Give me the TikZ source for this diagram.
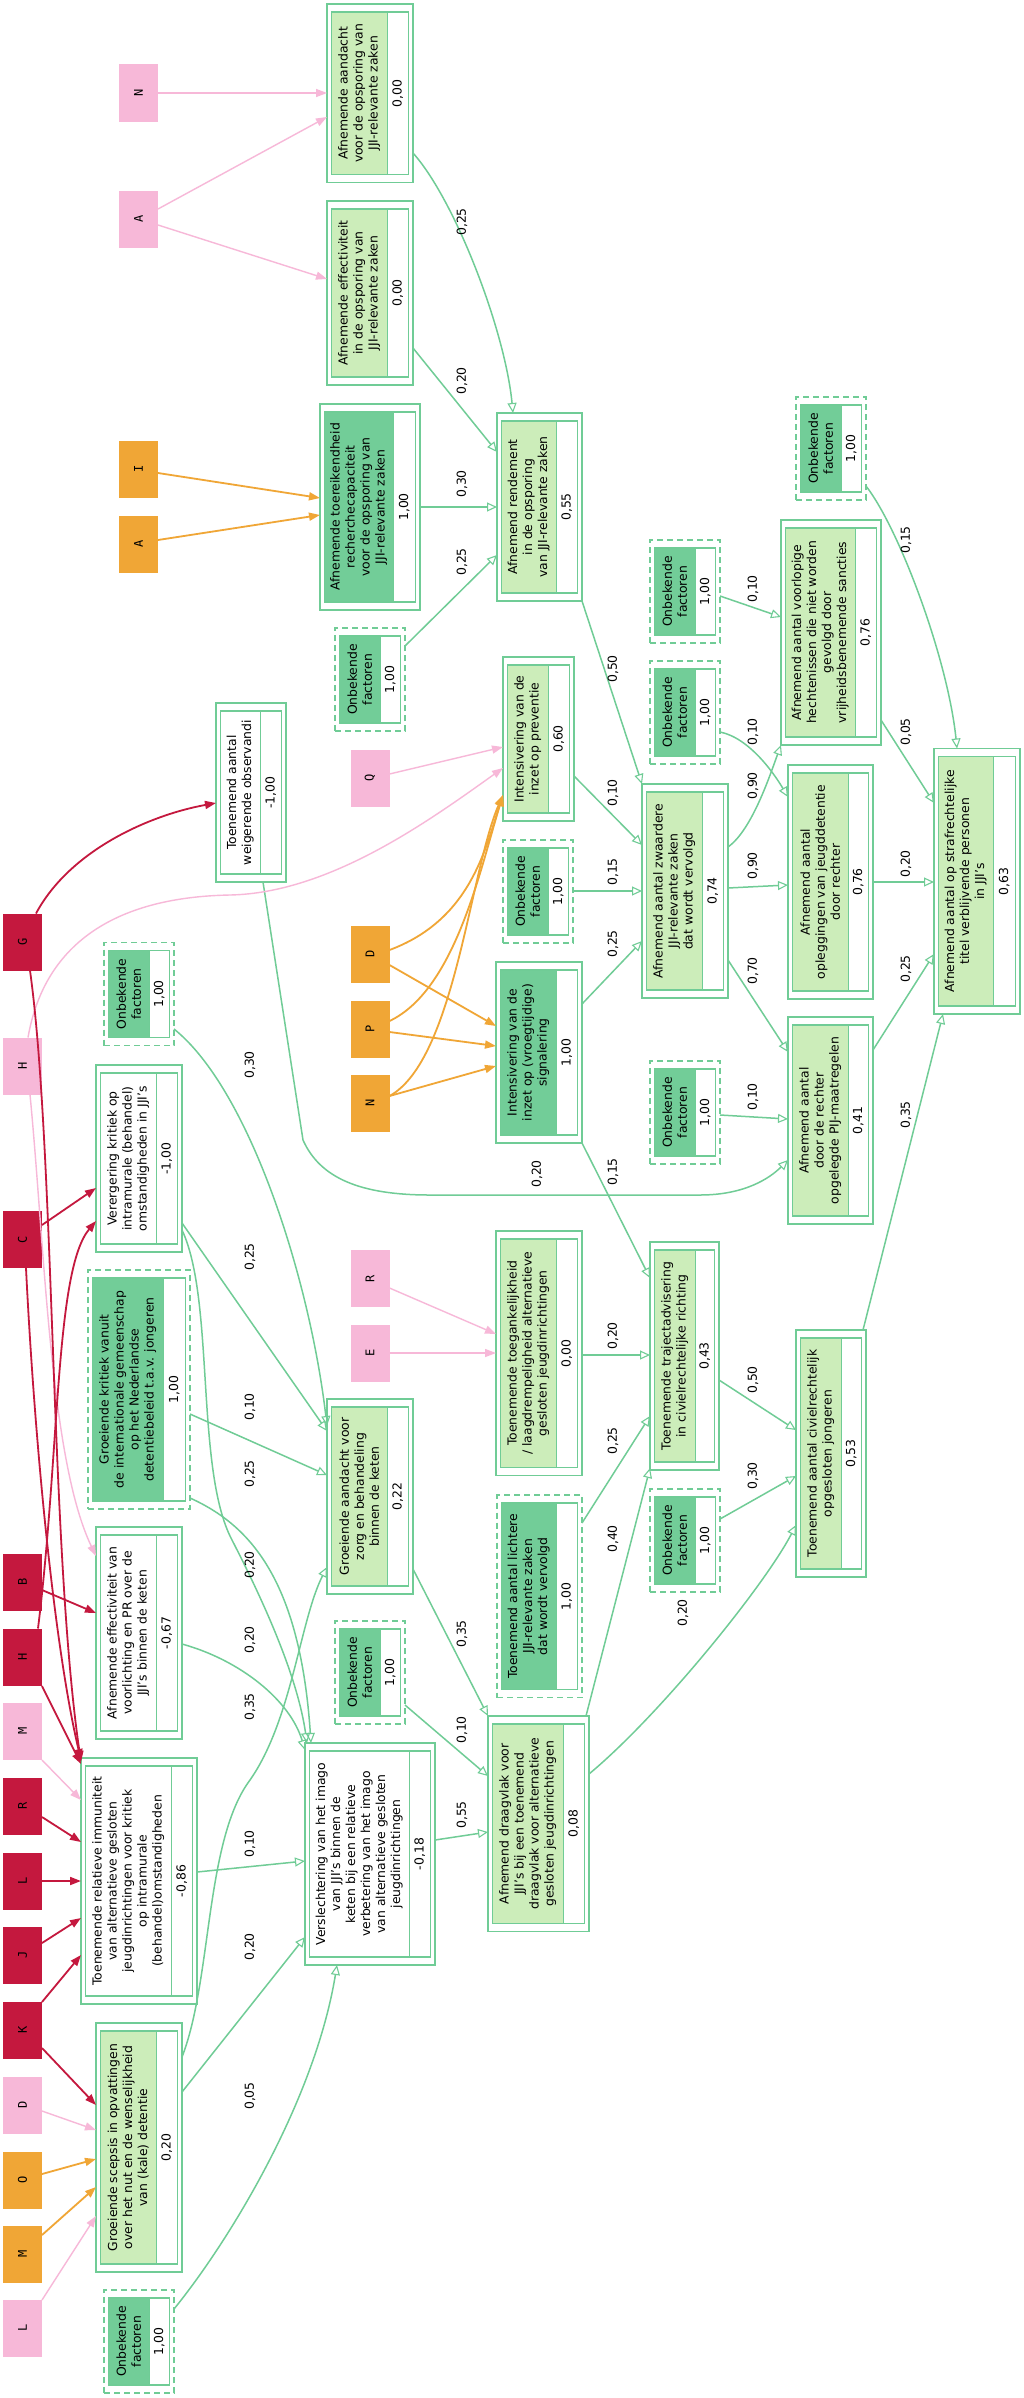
\documentclass[tikz,border=0pt]{standalone}
\usepackage{fontspec}
\usepackage{graphicx}
\setmainfont{DejaVu Sans}
\newfontfamily\monof{DejaVu Sans Mono}
\usetikzlibrary{arrows.meta}
\definecolor{gline}{RGB}{112,204,150}
\definecolor{lightfill}{RGB}{204,237,186}
\definecolor{medfill}{RGB}{114,205,152}
\definecolor{pinkc}{RGB}{247,184,216}
\definecolor{orangec}{RGB}{240,166,54}
\definecolor{crimc}{RGB}{196,24,62}
\tikzset{
 obst/.style={solid},
 outerbox/.style={draw=gline, line width=1.6pt, inner sep=0pt, outer sep=0pt, rectangle},
 innerbox/.style={draw=gline, line width=1.4pt},
 divline/.style={draw=gline, line width=0.9pt},
 boxtext/.style={rotate=90, align=center, inner sep=0pt, font=\fontsize{12.4}{15}\selectfont},
 elab/.style={rotate=90, inner sep=1pt, font=\fontsize{12.4}{15}\selectfont},
 letterbox/.style={rectangle, minimum width=39pt, minimum height=57pt, inner sep=0pt, outer sep=0pt, font=\monof\fontsize{12}{14}\selectfont},
 gedge/.style={draw=gline, line width=1.5pt, -{Triangle[open, length=10pt, width=9pt, line width=1.1pt]}},
 pedge/.style={draw=pinkc, line width=1.4pt, -{Triangle[length=11pt, width=8pt]}},
 oedge/.style={draw=orangec, line width=1.8pt, -{Triangle[length=11pt, width=8pt]}},
 cedge/.style={draw=crimc, line width=1.8pt, -{Triangle[length=11pt, width=8pt]}},
}
% name, xL, xR, yT, yB, div, fill, label, value
\newcommand{\gbox}[9]{%
  \pgfmathsetmacro{\bcx}{(#2+#3)/2}%
  \pgfmathsetmacro{\bcy}{(#4+#5)/2}%
  \pgfmathsetmacro{\bw}{#3-#2}%
  \pgfmathsetmacro{\bh}{#5-#4}%
  \pgfmathsetmacro{\ilx}{#2+4.5}%
  \pgfmathsetmacro{\irx}{#3-4.5}%
  \pgfmathsetmacro{\ity}{#4+8}%
  \pgfmathsetmacro{\iby}{#5-8}%
  \pgfmathsetmacro{\dvx}{#6}%
  \pgfmathsetmacro{\lcx}{(\ilx+\dvx)/2}%
  \pgfmathsetmacro{\vcx}{(\dvx+\irx)/2}%
  \node[outerbox, obst, minimum width=\bw pt, minimum height=\bh pt] (#1) at (\bcx,\bcy) {};
  \fill[#7] (\ilx,\ity) rectangle (\dvx,\iby);
  \draw[innerbox] (\ilx,\ity) rectangle (\irx,\iby);
  \draw[divline] (\dvx,\ity) -- (\dvx,\iby);
  \node[boxtext] (#1-l) at (\lcx,\bcy) {#8};
  \node[boxtext] (#1-v) at (\vcx,\bcy) {#9};
}
\newcommand{\onb}[3]{\begingroup\tikzset{obst/.style={dashed, dash pattern=on 6pt off 4pt}}%
  \gbox{#1}{#2}{#2+70}{#3}{#3+103}{#2+45}{medfill}{Onbekende\\factoren}{1,00}\endgroup}
\newcommand{\lbox}[5]{\node[letterbox, fill=#4] (#1) at (#2,#3) {\rotatebox{90}{#5}};}

\begin{document}
\begin{tikzpicture}[x=1pt,y=-1pt]
\useasboundingbox (0,0) rectangle (1024,2398);
\fill[white] (0,0) rectangle (1024,2398);

% ---------- main boxes ----------
\gbox{bAand}{327}{413}{4}{182.5}{387}{lightfill}{Afnemende aandacht\\voor de opsporing van\\JJI-relevante zaken}{0,00}
\gbox{bEffOps}{327}{413}{201}{385}{387}{lightfill}{Afnemende effectiviteit\\in de opsporing van\\JJI-relevante zaken}{0,00}
\gbox{bToer}{320}{420}{404}{610}{393}{medfill}{Afnemende toereikendheid\\recherchecapaciteit\\voor de opsporing van\\JJI-relevante zaken}{1,00}
\gbox{bRend}{497}{582}{413}{601}{556}{lightfill}{Afnemend rendement\\in de opsporing\\van JJI-relevante zaken}{0,55}
\gbox{bWeig}{216}{286}{703}{882}{260}{white}{Toenemend aantal\\weigerende observandi}{-1,00}
\gbox{bPrev}{503}{574}{657}{821}{548}{lightfill}{Intensivering van de\\inzet op preventie}{0,60}
\gbox{bSign}{496}{582}{962}{1143}{556}{medfill}{Intensivering van de\\inzet op (vroegtijdige)\\signalering}{1,00}
\gbox{bZwaar}{642}{728}{784}{998}{702}{lightfill}{Afnemend aantal zwaardere\\JJI-relevante zaken\\dat wordt vervolgd}{0,74}
\gbox{bVoorl}{781}{881}{520}{745}{855}{lightfill}{Afnemend aantal voorlopige\\hechtenissen die niet worden\\gevolgd door\\vrijheidsbenemende sancties}{0,76}
\gbox{bOpleg}{788}{873}{765}{999}{848}{lightfill}{Afnemend aantal\\opleggingen van jeugddetentie\\door rechter}{0,76}
\gbox{bPIJ}{788}{873}{1017}{1224}{848}{lightfill}{Afnemend aantal\\door de rechter\\opgelegde PIJ-maatregelen}{0,41}
\gbox{bStraf}{934}{1020}{748.5}{1014}{993}{lightfill}{Afnemend aantal op strafrechtelijke\\titel verblijvende personen\\in JJI's}{0,63}
\gbox{bVerer}{96}{182}{1065}{1252}{156}{white}{Verergering kritiek op\\intramurale (behandel)\\omstandigheden in JJI's}{-1,00}
\begingroup\tikzset{obst/.style={dashed, dash pattern=on 6pt off 4pt}}
\gbox{bKrit}{88}{190}{1270}{1509}{163}{medfill}{Groeiende kritiek vanuit\\de internationale gemeenschap\\op het Nederlandse\\detentiebeleid t.a.v. jongeren}{1,00}
\gbox{bLicht}{497}{582}{1495}{1697.5}{556}{medfill}{Toenemend aantal lichtere\\JJI-relevante zaken\\dat wordt vervolgd}{1,00}
\endgroup
\gbox{bVoorli}{96}{182}{1527}{1739}{156}{white}{Afnemende effectiviteit van\\voorlichting en PR over de\\JJI's binnen de keten}{-0,67}
\gbox{bImmun}{81}{197}{1758}{2004}{171}{white}{Toenemende relatieve immuniteit\\van alternatieve gesloten\\jeugdinrichtingen voor kritiek\\op intramurale\\(behandel)omstandigheden}{-0,86}
\gbox{bScep}{96}{182}{2023}{2272}{156}{lightfill}{Groeiende scepsis in opvattingen\\over het nut en de wenselijkheid\\van (kale) detentie}{0,20}
\gbox{bZorg}{327}{413}{1399}{1594}{387}{lightfill}{Groeiende aandacht voor\\zorg en behandeling\\binnen de keten}{0,22}
\gbox{bVersl}{305}{435}{1743}{1965}{409}{white}{Verslechtering van het imago\\van JJI's binnen de\\keten bij een relatieve\\verbetering van het imago\\van alternatieve gesloten\\jeugdinrichtingen}{-0,18}
\gbox{bToeg}{496}{582}{1231}{1475.5}{556}{lightfill}{Toenemende toegankelijkheid\\/ laagdrempeligheid alternatieve\\gesloten jeugdinrichtingen}{0,00}
\gbox{bDraag}{488}{589}{1716}{1931.6}{563}{lightfill}{Afnemend draagvlak voor\\JJI's bij een toenemend\\draagvlak voor alternatieve\\gesloten jeugdinrichtingen}{0,08}
\gbox{bTraj}{650}{719}{1242}{1470}{695}{lightfill}{Toenemende trajectadvisering\\in civielrechtelijke richting}{0,43}
\gbox{bCivi}{796}{866}{1330}{1577}{841}{lightfill}{Toenemend aantal civielrechtelijk\\opgesloten jongeren}{0,53}

% ---------- unknown factors ----------
\onb{o1}{335}{628}
\onb{o2}{104}{942.5}
\onb{o3}{503}{840}
\onb{o4}{796}{397}
\onb{o5}{650}{540}
\onb{o6}{650}{661}
\onb{o7}{650}{1061}
\onb{o8}{104}{2290}
\onb{o9}{335}{1621}
\onb{o10}{650}{1489}

% ---------- letter boxes ----------
\lbox{lN}{138.5}{93}{pinkc}{N}
\lbox{lA1}{138.5}{219}{pinkc}{A}
\lbox{lI}{138.5}{469}{orangec}{I}
\lbox{lA2}{138.5}{544}{orangec}{A}
\lbox{lQ}{370}{778}{pinkc}{Q}
\lbox{lD2}{370}{954}{orangec}{D}
\lbox{lP}{370}{1029}{orangec}{P}
\lbox{lN2}{370}{1103}{orangec}{N}
\lbox{lR2}{370}{1278.5}{pinkc}{R}
\lbox{lE}{370}{1353}{pinkc}{E}
\lbox{lG}{22.5}{942}{crimc}{G}
\lbox{lH1}{22.5}{1066}{pinkc}{H}
\lbox{lC}{22.5}{1239.5}{crimc}{C}
\lbox{lB}{22.5}{1582}{crimc}{B}
\lbox{lH2}{22.5}{1657}{crimc}{H}
\lbox{lM1}{22.5}{1731}{pinkc}{M}
\lbox{lR1}{22.5}{1806}{crimc}{R}
\lbox{lL1}{22.5}{1881}{crimc}{L}
\lbox{lJ}{22.5}{1955}{crimc}{J}
\lbox{lK}{22.5}{2030}{crimc}{K}
\lbox{lD1}{22.5}{2105}{pinkc}{D}
\lbox{lO}{22.5}{2180}{orangec}{O}
\lbox{lM2}{22.5}{2254}{orangec}{M}
\lbox{lL2}{22.5}{2328}{pinkc}{L}

% ---------- green edges ----------
\draw[gedge] (bAand.east |- 0,153) .. controls (455,200) and (505,330) .. (bRend.north -| 513,0);
\draw[gedge] (bEffOps.east |- 0,348) -- (bRend.west |- 0,452);
\draw[gedge] (bToer.east |- 0,507) -- (bRend.west |- 0,507);
\draw[gedge] (o1.east |- 0,646) -- (bRend.west |- 0,555);
\draw[gedge] (bRend.south east) -- (bZwaar.north west);
\draw[gedge] (bPrev.east |- 0,776) -- (bZwaar.west |- 0,845);
\draw[gedge] (o3.east |- 0,891) -- (bZwaar.west |- 0,891);
\draw[gedge] (bSign.east |- 0,1004) -- (bZwaar.west |- 0,941);
\draw[gedge] (o5.east |- 0,596) -- (bVoorl.west |- 0,617);
\draw[gedge] (o6.east |- 0,732) .. controls (750,738) and (775,775) .. (bOpleg.west |- 0,797);
\draw[gedge] (bZwaar.east |- 0,847) .. controls (752,830) and (770,775) .. (bVoorl.south west);
\draw[gedge] (bZwaar.east |- 0,888) -- (bOpleg.west |- 0,885);
\draw[gedge] (bZwaar.east |- 0,960) -- (bPIJ.west |- 0,1052);
\draw[gedge] (o7.east |- 0,1115) -- (bPIJ.west |- 0,1119);
\draw[gedge] (bWeig.south -| 263,0) -- (303,1140) .. controls (320,1178) and (360,1195) .. (430,1195) -- (700,1195) .. controls (745,1195) and (770,1178) .. (bPIJ.west |- 0,1160);
\draw[gedge] (bVoorl.east |- 0,720) -- (bStraf.west |- 0,803);
\draw[gedge] (o4.east |- 0,486) .. controls (900,530) and (948,660) .. (bStraf.north -| 957,0);
\draw[gedge] (bOpleg.east |- 0,882) -- (bStraf.west |- 0,882);
\draw[gedge] (bPIJ.east |- 0,1050) -- (bStraf.west |- 0,954);
\draw[gedge] (bCivi.north -| 863,0) -- (bStraf.south -| 943,0);
\draw[gedge] (bTraj.east |- 0,1380) -- (bCivi.west |- 0,1430);
\draw[gedge] (o10.east |- 0,1519) -- (bCivi.west |- 0,1476);
\draw[gedge] (bDraag.east |- 0,1774) .. controls (660,1715) and (765,1585) .. (bCivi.west |- 0,1525);
\draw[gedge] (bToeg.east |- 0,1355) -- (bTraj.west |- 0,1355);
\draw[gedge] (bLicht.east |- 0,1523) -- (bTraj.west |- 0,1416);
\draw[gedge] (bDraag.north -| 586,0) -- (bTraj.west |- 0,1468);
\draw[gedge] (bSign.south east) -- (bTraj.west |- 0,1278);
\draw[gedge] (o2.east |- 0,1029) .. controls (250,1090) and (310,1280) .. (bZorg.west |- 0,1426);
\draw[gedge] (bVerer.east |- 0,1223) -- (bZorg.west |- 0,1431);
\draw[gedge] (bVerer.east |- 0,1230) .. controls (215,1300) and (195,1470) .. (232,1540) .. controls (268,1610) and (298,1680) .. (bVersl.north -| 307,0);
\draw[gedge] (bKrit.east |- 0,1414) -- (bZorg.west |- 0,1475);
\draw[gedge] (bKrit.east |- 0,1498) .. controls (250,1525) and (300,1580) .. (bVersl.north -| 311,0);
\draw[gedge] (bVoorli.east |- 0,1644) .. controls (240,1660) and (290,1700) .. (bVersl.west |- 0,1750);
\draw[gedge] (bScep.east |- 0,2057) .. controls (212,1980) and (205,1840) .. (250,1780) .. controls (292,1720) and (300,1620) .. (bZorg.west |- 0,1567);
\draw[gedge] (bImmun.east |- 0,1872) -- (bVersl.west |- 0,1861);
\draw[gedge] (bScep.east |- 0,2092) -- (bVersl.west |- 0,1937);
\draw[gedge] (o8.east |- 0,2309) .. controls (230,2240) and (315,2100) .. (bVersl.south -| 337,0);
\draw[gedge] (bZorg.east |- 0,1569) -- (bDraag.north west);
\draw[gedge] (o9.east |- 0,1705) -- (bDraag.west |- 0,1776);
\draw[gedge] (bVersl.east |- 0,1840) -- (bDraag.west |- 0,1832);

% ---------- pink edges ----------
\draw[pedge] (lN.east) -- (bAand.west |- 0,93);
\draw[pedge] (lA1.east |- 0,209) -- (bAand.west |- 0,117);
\draw[pedge] (lA1.east |- 0,225) -- (bEffOps.west |- 0,279);
\draw[pedge] (lQ.east |- 0,774) -- (bPrev.west |- 0,747);
\draw[pedge] (lH1.north -| 28,0) .. controls (45,940) and (120,897) .. (230,895) .. controls (330,893) and (430,820) .. (bPrev.west |- 0,768);
\draw[pedge] (lH1.south -| 30,0) .. controls (45,1250) and (50,1460) .. (bVoorli.west |- 0,1556);
\draw[pedge] (lM1.east |- 0,1760) -- (bImmun.west |- 0,1800);
\draw[pedge] (lD1.east |- 0,2111) -- (bScep.west |- 0,2130);
\draw[pedge] (lL2.east |- 0,2300) -- (bScep.west |- 0,2216);
\draw[pedge] (lR2.east |- 0,1288) -- (bToeg.west |- 0,1334);
\draw[pedge] (lE.east) -- (bToeg.west |- 0,1353);

% ---------- orange edges ----------
\draw[oedge] (lI.east |- 0,473) -- (bToer.west |- 0,498);
\draw[oedge] (lA2.east |- 0,540) -- (bToer.west |- 0,515);
\draw[oedge] (lD2.east |- 0,950) .. controls (470,920) and (485,850) .. (bPrev.west |- 0,795);
\draw[oedge] (lD2.east |- 0,965) -- (bSign.west |- 0,1026);
\draw[oedge] (lP.east |- 0,1021) .. controls (455,990) and (480,870) .. (bPrev.west |- 0,795);
\draw[oedge] (lP.east |- 0,1032) -- (bSign.west |- 0,1046);
\draw[oedge] (lN2.east |- 0,1096) .. controls (455,1060) and (470,870) .. (bPrev.west |- 0,795);
\draw[oedge] (lN2.east |- 0,1096) -- (bSign.west |- 0,1066);
\draw[oedge] (lO.east |- 0,2174) -- (bScep.west |- 0,2159);
\draw[oedge] (lM2.east |- 0,2235) -- (bScep.west |- 0,2187);

% ---------- crimson edges ----------
\draw[cedge] (lG.north -| 36,0) .. controls (70,850) and (150,815) .. (bWeig.west |- 0,803);
\draw[cedge] (lG.south -| 30,0) .. controls (55,1150) and (50,1550) .. (bImmun.west |- 0,1762);
\draw[cedge] (lC.east |- 0,1225) -- (bVerer.west |- 0,1188);
\draw[cedge] (lC.south -| 26,0) .. controls (35,1450) and (55,1650) .. (bImmun.west |- 0,1760);
\draw[cedge] (lH2.north -| 38,0) .. controls (60,1450) and (55,1270) .. (bVerer.west |- 0,1221);
\draw[cedge] (lH2.east |- 0,1686) -- (bImmun.west |- 0,1764);
\draw[cedge] (lB.east |- 0,1590) -- (bVoorli.west |- 0,1613);
\draw[cedge] (lR1.east |- 0,1817) -- (bImmun.west |- 0,1842);
\draw[cedge] (lL1.east) -- (bImmun.west |- 0,1881);
\draw[cedge] (lJ.east |- 0,1943) -- (bImmun.west |- 0,1918);
\draw[cedge] (lK.east |- 0,2002) -- (bImmun.west |- 0,1955);
\draw[cedge] (lK.east |- 0,2048) -- (bScep.west |- 0,2105);

% ---------- edge labels ----------
\node[elab] (t1) at (462,222) {0,25};
\node[elab] (t2) at (462,381) {0,20};
\node[elab] (t3) at (462,484) {0,30};
\node[elab] (t4) at (462,562) {0,25};
\node[elab] (t5) at (613,669) {0,50};
\node[elab] (t6) at (613,793) {0,10};
\node[elab] (t7) at (613,872) {0,15};
\node[elab] (t8) at (613,944) {0,25};
\node[elab] (t9) at (753,589) {0,10};
\node[elab] (t10) at (753,732) {0,10};
\node[elab] (t11) at (753,786) {0,90};
\node[elab] (t12) at (753,866) {0,90};
\node[elab] (t13) at (753,971) {0,70};
\node[elab] (t14) at (753,1097) {0,10};
\node[elab] (t15) at (537,1174) {0,20};
\node[elab] (t16) at (906,732) {0,05};
\node[elab] (t17) at (906,540) {0,15};
\node[elab] (t18) at (906,864) {0,20};
\node[elab] (t19) at (906,969) {0,25};
\node[elab] (t20) at (906,1115) {0,35};
\node[elab] (t21) at (753,1380) {0,50};
\node[elab] (t22) at (753,1476) {0,30};
\node[elab] (t23) at (683,1613) {0,20};
\node[elab] (t24) at (613,1336) {0,20};
\node[elab] (t25) at (613,1441) {0,25};
\node[elab] (t26) at (613,1539) {0,40};
\node[elab] (t27) at (613,1172) {0,15};
\node[elab] (t28) at (250,1065) {0,30};
\node[elab] (t29) at (250,1257) {0,25};
\node[elab] (t30) at (250,1407) {0,10};
\node[elab] (t31) at (250,1474) {0,25};
\node[elab] (t32) at (250,1565) {0,20};
\node[elab] (t33) at (250,1640) {0,20};
\node[elab] (t34) at (250,1707) {0,35};
\node[elab] (t35) at (250,1844) {0,10};
\node[elab] (t36) at (250,1947) {0,20};
\node[elab] (t37) at (250,2096) {0,05};
\node[elab] (t38) at (462,1634) {0,35};
\node[elab] (t39) at (462,1730) {0,10};
\node[elab] (t40) at (462,1815) {0,55};
\end{tikzpicture}
\end{document}
